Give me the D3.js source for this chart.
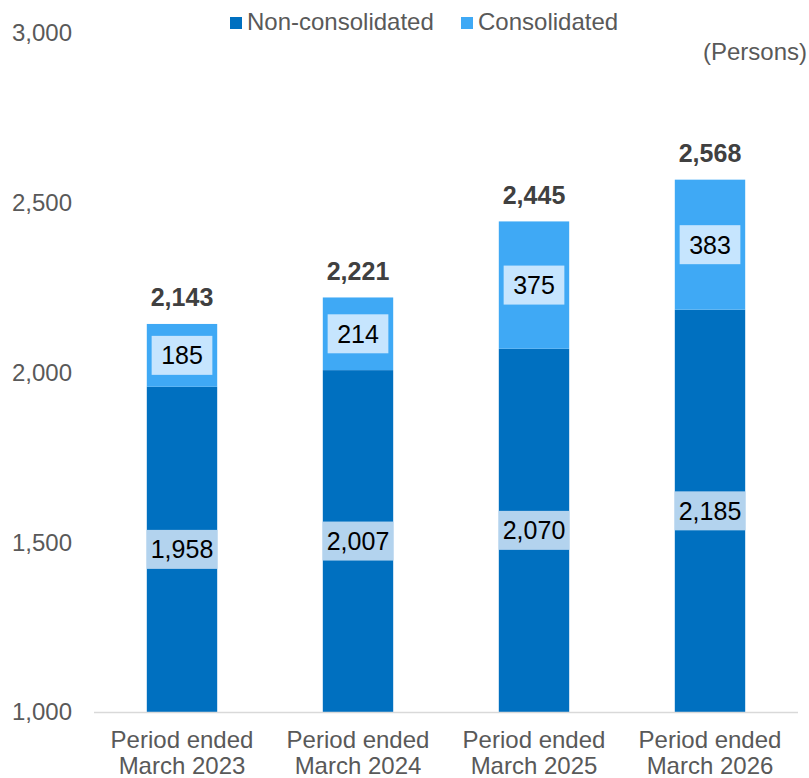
<!DOCTYPE html>
<html>
<head>
<meta charset="utf-8">
<style>
body { margin: 0; background: #fff; }
text { font-family: "Liberation Sans", Arial, sans-serif; }
</style>
</head>
<body>
<script src="https://cdn.jsdelivr.net/npm/d3@7"></script>
<script>
var periods = ["March 2023", "March 2024", "March 2025", "March 2026"];
var nonConsolidated = [1958, 2007, 2070, 2185];
var consolidated = [185, 214, 375, 383];
var yTicks = [1000, 1500, 2000, 2500, 3000];

var width = 809, height = 778;
var darkBlue = "#0070c0", lightBlue = "#3fa9f5";

var svg = d3.select("body").append("svg")
    .attr("width", width)
    .attr("height", height);

var x = d3.scaleBand()
    .domain(periods)
    .range([94, 798])
    .paddingInner(0.6)
    .paddingOuter(0.3);

var y = d3.scaleLinear()
    .domain([1000, 3000])
    .range([712, 33]);

var fmt = d3.format(",");

// y tick labels
svg.append("g").selectAll("text")
    .data(yTicks)
    .enter().append("text")
    .attr("x", 72)
    .attr("y", function(d) { return y(d); })
    .attr("dy", "0.35em")
    .attr("text-anchor", "end")
    .style("font-size", "24px")
    .style("fill", "#595959")
    .text(function(d) { return fmt(d); });

// stacked rows
var rows = periods.map(function(p, i) {
  return {period: p, non: nonConsolidated[i], con: consolidated[i], total: nonConsolidated[i] + consolidated[i]};
});

var bars = svg.append("g").selectAll("g")
    .data(rows)
    .enter().append("g");

bars.append("rect")
    .attr("x", function(d) { return x(d.period); })
    .attr("width", x.bandwidth())
    .attr("y", function(d) { return y(d.non); })
    .attr("height", function(d) { return y(1000) - y(d.non); })
    .style("fill", darkBlue);

bars.append("rect")
    .attr("x", function(d) { return x(d.period); })
    .attr("width", x.bandwidth())
    .attr("y", function(d) { return y(d.total); })
    .attr("height", function(d) { return y(d.non) - y(d.total); })
    .style("fill", lightBlue);

// boxed value labels
function boxLabel(sel, valueFn, midFn, fill) {
  var g = sel.append("g");
  g.append("rect").style("fill", fill);
  var t = g.append("text")
      .attr("x", function(d) { return x(d.period) + x.bandwidth() / 2; })
      .attr("y", midFn)
      .attr("dy", "0.36em")
      .attr("text-anchor", "middle")
      .style("font-size", "25px")
      .style("fill", "#000")
      .text(function(d) { return fmt(valueFn(d)); });
  t.each(function(d) {
    var w = Math.min(this.getComputedTextLength() + 19, x.bandwidth());
    var cx = x(d.period) + x.bandwidth() / 2;
    d3.select(this.previousSibling)
        .attr("x", cx - w / 2)
        .attr("width", w)
        .attr("y", midFn(d) - 19.5)
        .attr("height", 39);
  });
}

boxLabel(bars, function(d) { return d.non; },
  function(d) { return (y(1000) + y(d.non)) / 2; }, "#b3d3ee");
boxLabel(bars, function(d) { return d.con; },
  function(d) { return (y(d.non) + y(d.total)) / 2; }, "#c6e5fe");

// totals
bars.append("text")
    .attr("x", function(d) { return x(d.period) + x.bandwidth() / 2; })
    .attr("y", function(d) { return y(d.total) - 17.5; })
    .attr("text-anchor", "middle")
    .style("font-size", "25px")
    .style("font-weight", "bold")
    .style("fill", "#404040")
    .text(function(d) { return fmt(d.total); });

// baseline
svg.append("line")
    .attr("x1", 94).attr("x2", 798)
    .attr("y1", y(1000) + 0.5).attr("y2", y(1000) + 0.5)
    .style("stroke", "#d9d9d9")
    .style("stroke-width", 1.5);

// x labels
var xl = svg.append("g").selectAll("text")
    .data(periods)
    .enter().append("text")
    .attr("text-anchor", "middle")
    .style("font-size", "24px")
    .style("fill", "#595959");
xl.append("tspan")
    .attr("x", function(d) { return x(d) + x.bandwidth() / 2; })
    .attr("y", 748)
    .text("Period ended");
xl.append("tspan")
    .attr("x", function(d) { return x(d) + x.bandwidth() / 2; })
    .attr("y", 774)
    .text(function(d) { return d; });

// legend
var legend = [["Non-consolidated", darkBlue, 230], ["Consolidated", lightBlue, 461]];
var lg = svg.append("g").selectAll("g").data(legend).enter().append("g");
lg.append("rect")
    .attr("x", function(d) { return d[2]; })
    .attr("y", 17)
    .attr("width", 12).attr("height", 12)
    .style("fill", function(d) { return d[1]; });
lg.append("text")
    .attr("x", function(d) { return d[2] + 17; })
    .attr("y", 30)
    .style("font-size", "24px")
    .style("fill", "#595959")
    .text(function(d) { return d[0]; });

svg.append("text")
    .attr("x", 807)
    .attr("y", 52)
    .attr("dy", "0.35em")
    .attr("text-anchor", "end")
    .style("font-size", "24px")
    .style("fill", "#595959")
    .text("(Persons)");
</script>
</body>
</html>
